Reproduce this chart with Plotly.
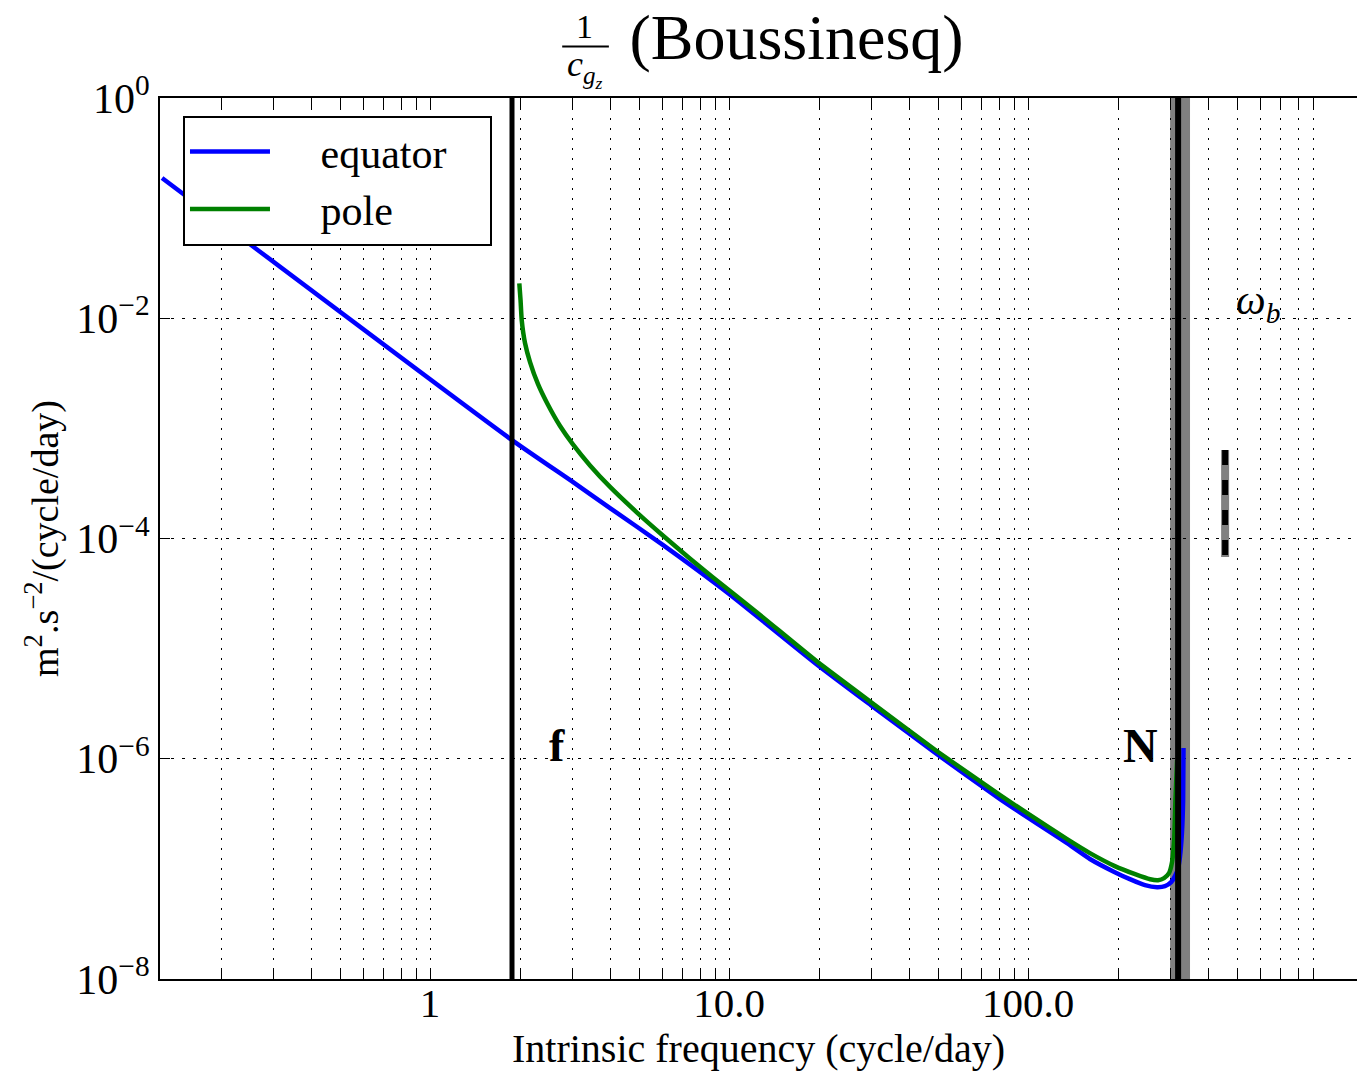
import plotly.graph_objects as go

# ---------------- data ----------------
eq_freq = [0.127, 1.88, 3.01, 4.0, 6.02, 9.93, 19.8, 29.8, 49.6, 80.6, 99.3, 115.8, 135, 161,
           195, 219, 246, 270, 287, 301, 310, 317.5, 322, 327, 330, 331]
eq_val = [0.1875, 7.83e-4, 3.25e-4, 1.89e-4, 8.71e-5, 3.19e-5, 7.08e-6, 3.07e-6, 1.10e-6,
          4.30e-7, 2.95e-7, 2.25e-7, 1.71e-7, 1.23e-7, 9.33e-8, 8.06e-8, 7.11e-8, 6.82e-8,
          6.96e-8, 7.57e-8, 8.59e-8, 1.01e-7, 1.28e-7, 2.11e-7, 4.21e-7, 1.25e-6]

pole_freq = [1.989, 2.008, 2.026, 2.078, 2.160, 2.297, 2.462, 2.722, 3.01, 3.428, 4.0, 4.923,
             6.02, 7.41, 8.84, 12.4, 19.8, 29.8, 49.6, 80.6, 99.3, 135, 161, 195, 228, 256,
             272, 285, 296, 303, 308, 311, 315]
pole_val = [0.02075, 0.01463, 9.63e-3, 5.96e-3, 4.00e-3, 2.52e-3, 1.70e-3, 1.05e-3, 7.11e-4,
            4.61e-4, 2.94e-4, 1.72e-4, 1.06e-4, 6.56e-5, 4.42e-5, 2.13e-5, 7.54e-6, 3.27e-6,
            1.17e-6, 4.67e-7, 3.21e-7, 1.86e-7, 1.39e-7, 1.06e-7, 8.95e-8, 8.05e-8, 7.89e-8,
            8.23e-8, 9.14e-8, 1.15e-7, 1.82e-7, 4.2e-7, 9.7e-7]

f_value = 1.88           # inertial frequency (cycle/day)
N_value = 317.5          # buoyancy frequency (cycle/day)
N_band = [298.5, 348.0]  # shaded band around N
omega_b_freq = 456.0
omega_b_range = [6.35e-4, 6.78e-5]

x_major = [1, 10, 100]
x_major_text = ["1", "10.0", "100.0"]
x_minor = [0.2, 0.3, 0.4, 0.5, 0.6, 0.7, 0.8, 0.9,
           2, 3, 4, 5, 6, 7, 8, 9,
           20, 30, 40, 50, 60, 70, 80, 90,
           200, 300, 400, 500, 600, 700, 800, 900]
y_major = [1, 1e-2, 1e-4, 1e-6, 1e-8]
y_major_text = ["10<sup>0</sup>", "10<sup>−2</sup>", "10<sup>−4</sup>",
                "10<sup>−6</sup>", "10<sup>−8</sup>"]

FONT = "Liberation Serif"

fig = go.Figure()

# shaded band around N (below curves)
fig.add_vrect(x0=N_band[0], x1=N_band[1], fillcolor="#808080", line_width=0,
              layer="below", opacity=1)

fig.add_trace(go.Scatter(x=eq_freq, y=eq_val, mode="lines",
                         name="\u2003\u200aequator\u2002\u2009\u2009",
                         line=dict(color="#0000ff", width=4.5, shape="spline", smoothing=0.5)))
fig.add_trace(go.Scatter(x=pole_freq, y=pole_val, mode="lines", name="\u2003\u200apole",
                         line=dict(color="#008000", width=4.5, shape="spline", smoothing=0.5)))

# omega_b marker: gray line with black dashes on top
fig.add_trace(go.Scatter(x=[omega_b_freq, omega_b_freq], y=omega_b_range, mode="lines",
                         line=dict(color="#808080", width=8), showlegend=False,
                         hoverinfo="skip"))
fig.add_trace(go.Scatter(x=[omega_b_freq, omega_b_freq], y=omega_b_range, mode="lines",
                         line=dict(color="black", width=6, dash="15px,15px"),
                         showlegend=False, hoverinfo="skip"))

# vertical lines f and N
fig.add_vline(x=f_value, line=dict(color="black", width=5), layer="above")
fig.add_vline(x=N_value, line=dict(color="black", width=6), layer="above")

# text labels
fig.add_annotation(x=0.425, y=-5.876, xref="x", yref="y", text="<b>f</b>", showarrow=False,
                   xanchor="center", yanchor="middle",
                   font=dict(family=FONT, size=46, color="black"))
fig.add_annotation(x=2.375, y=-5.876, xref="x", yref="y", text="<b>N</b>", showarrow=False,
                   xanchor="center", yanchor="middle",
                   font=dict(family=FONT, size=48, color="black"))
fig.add_annotation(x=2.769, y=-1.862, xref="x", yref="y",
                   text="<i>ω</i><sub><i>b</i></sub>", showarrow=False,
                   xanchor="center", yanchor="middle",
                   font=dict(family=FONT, size=42, color="black"))

# title fraction 1/c_gz
fig.add_annotation(x=0.355, y=1.081, xref="paper", yref="paper", text="1",
                   xanchor="center", yanchor="middle",
                   showarrow=False, font=dict(family=FONT, size=34, color="black"))
fig.add_shape(type="line", xref="paper", yref="paper", x0=0.336, x1=0.375, y0=1.0585, y1=1.0585,
              line=dict(color="black", width=2))
fig.add_annotation(x=0.355, y=1.033, xref="paper", yref="paper",
                   text="<i>c</i><sub><i>g</i><sub><i>z</i></sub></sub>",
                   xanchor="center", yanchor="middle",
                   showarrow=False, font=dict(family=FONT, size=36, color="black"))

grid_dash = "2px,8px"

fig.update_layout(
    width=1357, height=1071,
    margin=dict(l=160, r=0, t=98, b=92),
    paper_bgcolor="white", plot_bgcolor="white",
    font=dict(family=FONT, color="black"),
    title=dict(text="(Boussinesq)", x=0.587, xanchor="center", y=0.966, yanchor="middle",
               font=dict(family=FONT, size=64, color="black")),
    legend=dict(x=0.0192, y=0.980, xanchor="left", yanchor="top",
                bordercolor="black", borderwidth=2, bgcolor="white",
                font=dict(family=FONT, size=42, color="black"),
                itemwidth=80, tracegroupgap=0),
    showlegend=True,
)

fig.update_xaxes(
    type="log", range=[-0.903, 3.100],
    tickvals=x_major, ticktext=x_major_text,
    ticks="inside", ticklen=10, tickwidth=1, tickcolor="black",
    tickfont=dict(family=FONT, size=41, color="black"),
    ticklabelstandoff=-13,
    showline=True, linewidth=2, linecolor="black", mirror="ticks",
    showgrid=True, gridcolor="black", gridwidth=1, griddash=grid_dash,
    minor=dict(tickvals=x_minor, ticks="inside", ticklen=10, tickwidth=1, tickcolor="black",
               showgrid=True, gridcolor="black", gridwidth=1, griddash=grid_dash),
    title=dict(text="Intrinsic frequency (cycle/day)", standoff=16,
               font=dict(family=FONT, size=40, color="black")),
)
fig.update_yaxes(
    type="log", range=[-8, 0],
    tickvals=y_major, ticktext=y_major_text,
    ticks="inside", ticklen=10, tickwidth=1, tickcolor="black",
    tickfont=dict(family=FONT, size=42, color="black"),
    showline=True, linewidth=2, linecolor="black", mirror=False,
    showgrid=True, gridcolor="black", gridwidth=1, griddash="3px,8px",
    title=dict(text="m<sup>2</sup>.s<sup>−2</sup>/(cycle/day)", standoff=6,
               font=dict(family=FONT, size=38, color="black")),
)

fig.write_html("out.html")
